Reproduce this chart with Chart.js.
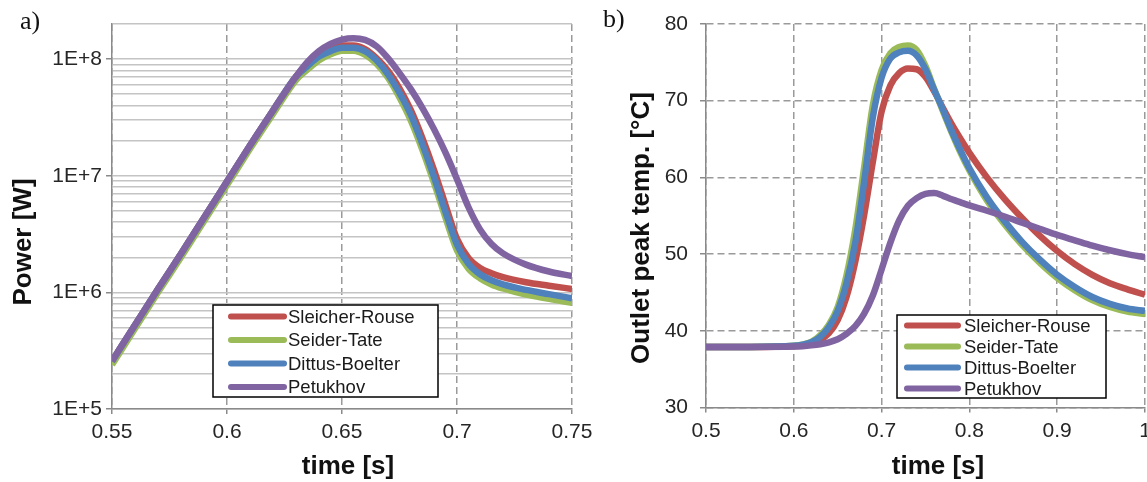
<!DOCTYPE html>
<html><head><meta charset="utf-8">
<script src="https://cdn.jsdelivr.net/npm/chart.js@4.4.1/dist/chart.umd.min.js"></script>
<style>
html,body{margin:0;padding:0;background:#fff;}
#wrap{position:relative;width:1147px;height:482px;overflow:hidden;background:#fff;}
#ca{position:absolute;left:0;top:0;}
#cb{position:absolute;left:590px;top:0;}
</style></head><body>
<div id="wrap"><canvas id="ca" width="600" height="482"></canvas><canvas id="cb" width="557" height="482"></canvas></div>
<script>
// ---------- data ----------
const seriesNames = ['Sleicher-Rouse', 'Seider-Tate', 'Dittus-Boelter', 'Petukhov'];
const seriesColors = ['#C0504D', '#9BBB59', '#4F81BD', '#8064A2'];

// panel a) power [W] vs time [s]
const timeA = [0.55,0.56,0.57,0.58,0.59,0.60,0.61,0.62,0.63,0.635,0.64,0.645,0.65,0.655,0.66,0.665,0.67,0.675,0.68,0.685,0.69,0.695,0.70,0.705,0.71,0.715,0.72,0.73,0.74,0.75];
const powerSR  = [2.57e5,5.25e5,1.07e6,2.14e6,4.37e6,8.91e6,1.82e7,3.63e7,7.08e7,8.91e7,1.08e8,1.22e8,1.31e8,1.31e8,1.22e8,1.02e8,7.94e7,5.62e7,3.63e7,2.09e7,1.12e7,5.62e6,2.88e6,1.97e6,1.62e6,1.46e6,1.35e6,1.22e6,1.14e6,1.07e6];
const powerST  = [2.40e5,4.90e5,1.00e6,2.00e6,4.07e6,8.32e6,1.70e7,3.39e7,6.61e7,8.13e7,9.77e7,1.10e8,1.18e8,1.18e8,1.09e8,9.12e7,6.92e7,4.68e7,2.95e7,1.66e7,8.71e6,4.37e6,2.29e6,1.60e6,1.32e6,1.17e6,1.08e6,9.55e5,8.81e5,8.13e5];
const powerDB  = [2.57e5,5.25e5,1.07e6,2.14e6,4.37e6,8.91e6,1.82e7,3.63e7,7.08e7,8.71e7,1.05e8,1.17e8,1.25e8,1.25e8,1.17e8,9.77e7,7.41e7,5.13e7,3.31e7,1.86e7,9.77e6,4.90e6,2.57e6,1.76e6,1.43e6,1.27e6,1.17e6,1.05e6,9.66e5,8.91e5];
const powerPet = [2.57e5,5.25e5,1.07e6,2.14e6,4.37e6,8.91e6,1.82e7,3.63e7,7.08e7,9.44e7,1.17e8,1.35e8,1.47e8,1.51e8,1.46e8,1.29e8,1.02e8,7.59e7,5.50e7,3.80e7,2.51e7,1.58e7,9.33e6,5.37e6,3.47e6,2.60e6,2.16e6,1.73e6,1.51e6,1.38e6];
const xTicksA = [0.55, 0.6, 0.65, 0.7, 0.75];
const xTickLabelsA = ['0.55', '0.6', '0.65', '0.7', '0.75'];
const yTicksA = [1e5, 1e6, 1e7, 1e8];
const yTickLabelsA = ['1E+5', '1E+6', '1E+7', '1E+8'];

// panel b) outlet peak temperature [°C] vs time [s]
const timeB = [0.5,0.55,0.6,0.61,0.62,0.63,0.64,0.65,0.66,0.67,0.68,0.69,0.70,0.71,0.72,0.73,0.74,0.75,0.76,0.77,0.78,0.79,0.80,0.82,0.84,0.86,0.88,0.90,0.92,0.94,0.96,0.98,1.0];
const tempSR  = [37.9,37.9,38.0,38.1,38.3,38.8,39.7,41.4,44.4,49.0,55.0,62.0,68.6,72.0,73.6,74.2,74.1,73.1,71.2,69.0,66.9,65.0,63.2,60.0,57.2,54.7,52.4,50.4,48.7,47.3,46.2,45.4,44.7];
const tempST  = [37.9,37.9,38.05,38.2,38.55,39.4,40.8,43.1,47.2,53.2,61.2,69.4,74.0,76.2,77.0,77.2,76.6,74.5,71.5,68.6,65.8,63.2,60.9,57.0,53.9,51.2,48.9,46.9,45.3,44.0,43.1,42.5,42.2];
const tempDB  = [37.9,37.9,38.05,38.2,38.5,39.2,40.5,42.6,46.2,51.5,59.3,67.8,73.0,75.5,76.3,76.5,75.9,74.1,71.4,68.8,66.0,63.5,61.2,57.4,54.3,51.6,49.3,47.3,45.7,44.4,43.5,42.9,42.6];
const tempPet = [37.9,37.9,37.95,38.0,38.1,38.25,38.5,38.9,39.6,40.6,42.2,44.6,48.0,51.5,54.4,56.3,57.3,57.85,57.95,57.6,57.15,56.75,56.35,55.65,54.9,54.1,53.3,52.5,51.8,51.1,50.5,50.0,49.6];
const xTicksB = [0.5, 0.6, 0.7, 0.8, 0.9, 1];
const xTickLabelsB = ['0.5', '0.6', '0.7', '0.8', '0.9', '1'];
const yTicksB = [30, 40, 50, 60, 70, 80];
const yTickLabelsB = ['30', '40', '50', '60', '70', '80'];

// ---------- helpers ----------
const FONT = '"Liberation Sans", Arial, sans-serif';
const TICK_FONT = {family: FONT, size: 21};
const TICK_COLOR = '#262626';
const LINE_W = 6.5;

function makeDatasets(times, seriesList) {
  return seriesList.map((vals, i) => ({
    label: seriesNames[i],
    data: times.map((t, k) => ({x: t, y: vals[k]})),
    borderColor: seriesColors[i],
    backgroundColor: seriesColors[i],
    borderWidth: LINE_W,
    pointRadius: 0,
    fill: false,
    cubicInterpolationMode: 'monotone',
    order: seriesList.length - i
  }));
}

function labelFor(list, labels) {
  return (v) => {
    for (let i = 0; i < list.length; i++) if (Math.abs(list[i] - v) < 1e-9 * Math.max(1, Math.abs(v))) return labels[i];
    return '';
  };
}

function overlayPlugin(cfg) {
  return {
    id: 'overlay',
    afterDatasetsDraw(chart) {
      const ctx = chart.ctx;
      const L = cfg.legend;
      ctx.save();
      ctx.fillStyle = '#ffffff';
      ctx.fillRect(L.x, L.y, L.w, L.h);
      ctx.strokeStyle = '#000';
      ctx.lineWidth = 1.5;
      ctx.strokeRect(L.x, L.y, L.w, L.h);
      chart.data.datasets.forEach((ds, i) => {
        const y = L.row0 + i * L.dy;
        ctx.strokeStyle = ds.borderColor;
        ctx.lineWidth = 6;
        ctx.lineCap = 'round';
        ctx.beginPath(); ctx.moveTo(L.lx1, y); ctx.lineTo(L.lx2, y); ctx.stroke();
        ctx.fillStyle = '#1a1a1a';
        ctx.font = '18.5px ' + FONT;
        ctx.textBaseline = 'middle';
        ctx.textAlign = 'left';
        ctx.fillText(ds.label, L.tx, y + 1);
      });
      // axis titles
      ctx.fillStyle = '#111';
      ctx.font = 'bold 26px ' + FONT;
      ctx.textAlign = 'center';
      ctx.textBaseline = 'middle';
      ctx.fillText(cfg.xTitle, cfg.xTitleX, cfg.xTitleY);
      ctx.save();
      ctx.translate(cfg.yTitleX, cfg.yTitleY);
      ctx.rotate(-Math.PI / 2);
      ctx.fillText(cfg.yTitle, 0, 0);
      ctx.restore();
      // panel label
      ctx.font = '26px "Liberation Serif", "Times New Roman", serif';
      ctx.textAlign = 'left';
      ctx.fillStyle = '#111';
      ctx.fillText(cfg.panel, cfg.panelX, cfg.panelY);
      ctx.restore();
    }
  };
}

// ---------- chart a) ----------
new Chart(document.getElementById('ca'), {
  type: 'line',
  data: {datasets: makeDatasets(timeA, [powerSR, powerST, powerDB, powerPet])},
  options: {
    responsive: false, animation: false, devicePixelRatio: 1,
    layout: {padding: {left: 0, right: 28, top: 24, bottom: 0}},
    plugins: {legend: {display: false}, tooltip: {enabled: false}},
    scales: {
      x: {
        type: 'linear', min: 0.55, max: 0.75,
        afterBuildTicks: (s) => { s.ticks = xTicksA.map(v => ({value: v})); },
        afterFit: (s) => { s.height = 73; s.paddingLeft = 0; s.paddingRight = 0; },
        ticks: {autoSkip: false, maxRotation: 0, font: TICK_FONT, color: TICK_COLOR, padding: 6, callback: labelFor(xTicksA, xTickLabelsA)},
        grid: {color: '#9A9A9A', lineWidth: 1.5, tickLength: 5, tickColor: '#8A8A8A', tickWidth: 1.5, tickBorderDash: []},
        border: {color: '#8A8A8A', width: 1.5, dash: [7, 4]}
      },
      y: {
        type: 'logarithmic', min: 1e5, max: 2e8,
        afterBuildTicks: (s) => {
          const t = [];
          for (let e = 5; e <= 8; e++) for (let m = 1; m <= 9; m++) {
            const v = m * Math.pow(10, e);
            if (v <= 2e8 * 1.0001) t.push({value: v, major: m === 1});
          }
          s.ticks = t;
        },
        afterFit: (s) => { s.width = 112; s.paddingTop = 0; s.paddingBottom = 0; },
        ticks: {autoSkip: false, font: TICK_FONT, color: TICK_COLOR, padding: 4, callback: labelFor(yTicksA, yTickLabelsA)},
        grid: {color: '#C4C4C4', lineWidth: 1.5, tickLength: 6, tickWidth: 1.5,
               tickColor: (ctx) => (ctx.tick && ctx.tick.major) ? '#8A8A8A' : 'rgba(0,0,0,0)'},
        border: {color: '#8A8A8A', width: 1.5}
      }
    }
  },
  plugins: [overlayPlugin({
    legend: {x: 213, y: 305, w: 225, h: 92, lx1: 231, lx2: 284, tx: 288, row0: 316.5, dy: 23.5},
    xTitle: 'time [s]', xTitleX: 348, xTitleY: 467,
    yTitle: 'Power [W]', yTitleX: 24, yTitleY: 242,
    panel: 'a)', panelX: 20, panelY: 22
  })]
});

// ---------- chart b) ----------
new Chart(document.getElementById('cb'), {
  type: 'line',
  data: {datasets: makeDatasets(timeB, [tempSR, tempST, tempDB, tempPet])},
  options: {
    responsive: false, animation: false, devicePixelRatio: 1,
    layout: {padding: {left: 0, right: 2, top: 24, bottom: 0}},
    plugins: {legend: {display: false}, tooltip: {enabled: false}},
    scales: {
      x: {
        type: 'linear', min: 0.5, max: 1,
        afterBuildTicks: (s) => { s.ticks = xTicksB.map(v => ({value: v})); },
        afterFit: (s) => { s.height = 74.5; s.paddingLeft = 0; s.paddingRight = 0; },
        ticks: {autoSkip: false, maxRotation: 0, font: TICK_FONT, color: TICK_COLOR, padding: 6, callback: labelFor(xTicksB, xTickLabelsB)},
        grid: {color: '#9A9A9A', lineWidth: 1.5, tickLength: 5, tickColor: '#8A8A8A', tickWidth: 1.5, tickBorderDash: []},
        border: {color: '#8A8A8A', width: 1.5, dash: [7, 4]}
      },
      y: {
        type: 'linear', min: 30, max: 80,
        afterBuildTicks: (s) => { s.ticks = yTicksB.map(v => ({value: v})); },
        afterFit: (s) => { s.width = 116; s.paddingTop = 0; s.paddingBottom = 0; },
        ticks: {autoSkip: false, font: TICK_FONT, color: TICK_COLOR, padding: 12, callback: labelFor(yTicksB, yTickLabelsB)},
        grid: {color: '#9A9A9A', lineWidth: 1.5, tickLength: 6, tickColor: '#8A8A8A', tickWidth: 1.5, tickBorderDash: []},
        border: {color: '#8A8A8A', width: 1.5, dash: [7, 4]}
      }
    }
  },
  plugins: [overlayPlugin({
    legend: {x: 307, y: 315, w: 209, h: 83, lx1: 317, lx2: 368, tx: 374, row0: 325.5, dy: 21},
    xTitle: 'time [s]', xTitleX: 348, xTitleY: 467,
    yTitle: 'Outlet peak temp. [°C]', yTitleX: 52, yTitleY: 228,
    panel: 'b)', panelX: 13, panelY: 20
  })]
});
</script>
</body></html>
